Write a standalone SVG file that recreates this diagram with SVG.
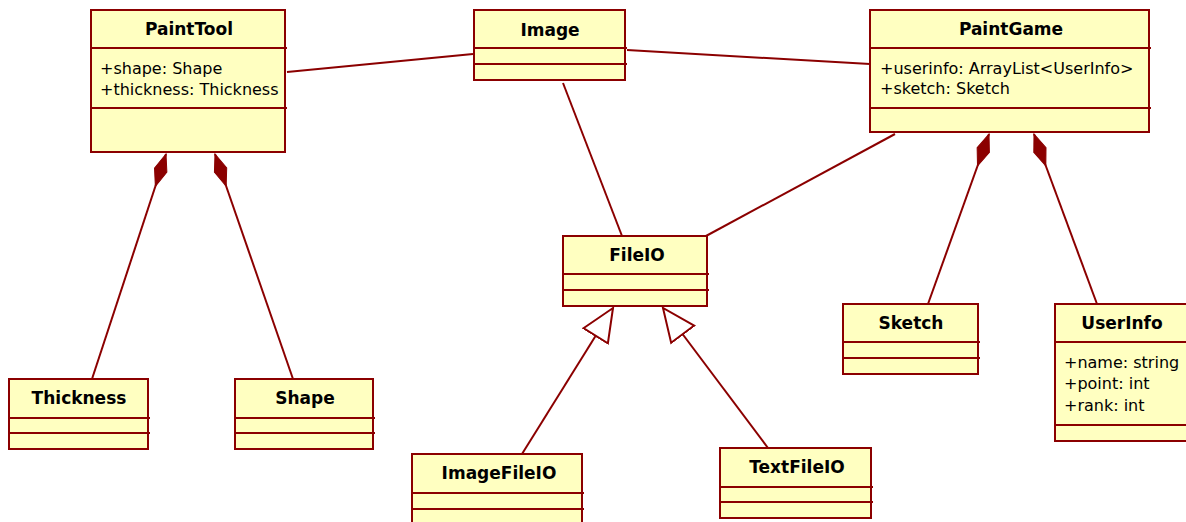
<svg xmlns="http://www.w3.org/2000/svg" width="1186" height="522" viewBox="0 0 1186 522">
<defs>
<style>
.box{fill:#FFFFC1;stroke:#8B0000;stroke-width:2}
.div{stroke:#8B0000;stroke-width:2}
.conn{stroke:#8B0000;stroke-width:2;fill:none}
.title{font-family:"DejaVu Sans",sans-serif;font-weight:bold;font-size:17px;fill:#000;text-anchor:middle}
.attr{font-family:"DejaVu Sans",sans-serif;font-size:16px;fill:#000}
</style>
<marker id="diamond" markerUnits="userSpaceOnUse" markerWidth="36" markerHeight="16" viewBox="0 -8 36 16" refX="34" refY="0" orient="auto">
<path d="M0,0 L17,-6.5 L34,0 L17,6.5 Z" fill="#8B0000" stroke="#8B0000" stroke-width="1"/>
</marker>
<marker id="tri" markerUnits="userSpaceOnUse" markerWidth="36" markerHeight="34" viewBox="-1 -16 36 32" refX="32.8" refY="0" orient="auto">
<path d="M0,-14.4 L32.8,0 L0,14.4 Z" fill="#FFFFFF" stroke="#8B0000" stroke-width="2"/>
</marker>
</defs>
<rect width="1186" height="522" fill="#FFFFFF"/>
<g id="connectors">
<line class="conn" x1="287" y1="72" x2="473" y2="54"/>
<line class="conn" x1="627" y1="50" x2="870" y2="64"/>
<line class="conn" x1="563" y1="83" x2="622" y2="236"/>
<line class="conn" x1="895" y1="134" x2="706" y2="236"/>
<line class="conn" x1="92" y1="379" x2="166" y2="154" marker-end="url(#diamond)"/>
<line class="conn" x1="293" y1="379" x2="215" y2="154" marker-end="url(#diamond)"/>
<line class="conn" x1="928" y1="304" x2="989" y2="134" marker-end="url(#diamond)"/>
<line class="conn" x1="1097" y1="304" x2="1034" y2="134" marker-end="url(#diamond)"/>
<line class="conn" x1="522" y1="454" x2="613" y2="308" marker-end="url(#tri)"/>
<line class="conn" x1="768" y1="448" x2="663" y2="308" marker-end="url(#tri)"/>
</g>
<g id="PaintTool">
<rect class="box" x="91" y="10" width="194" height="142"/>
<line class="div" x1="91" y1="48" x2="287" y2="48"/>
<line class="div" x1="91" y1="108" x2="287" y2="108"/>
<text class="title" x="189" y="35">PaintTool</text>
<text class="attr" x="100" y="74">+shape: Shape</text>
<text class="attr" x="100" y="95">+thickness: Thickness</text>
</g>
<g id="Image">
<rect class="box" x="474" y="10" width="151" height="70"/>
<line class="div" x1="474" y1="48" x2="627" y2="48"/>
<line class="div" x1="474" y1="64" x2="627" y2="64"/>
<text class="title" x="550" y="36">Image</text>
</g>
<g id="PaintGame">
<rect class="box" x="870" y="10" width="279" height="122"/>
<line class="div" x1="870" y1="48" x2="1151" y2="48"/>
<line class="div" x1="870" y1="108" x2="1151" y2="108"/>
<text class="title" x="1011" y="35">PaintGame</text>
<text class="attr" x="880" y="74">+userinfo: ArrayList&lt;UserInfo&gt;</text>
<text class="attr" x="880" y="94">+sketch: Sketch</text>
</g>
<g id="FileIO">
<rect class="box" x="563" y="236" width="144" height="70"/>
<line class="div" x1="563" y1="274" x2="709" y2="274"/>
<line class="div" x1="563" y1="290" x2="709" y2="290"/>
<text class="title" x="637" y="261">FileIO</text>
</g>
<g id="Thickness">
<rect class="box" x="9" y="379" width="139" height="70"/>
<line class="div" x1="9" y1="418" x2="150" y2="418"/>
<line class="div" x1="9" y1="433" x2="150" y2="433"/>
<text class="title" x="79" y="404">Thickness</text>
</g>
<g id="Shape">
<rect class="box" x="235" y="379" width="138" height="70"/>
<line class="div" x1="235" y1="418" x2="375" y2="418"/>
<line class="div" x1="235" y1="433" x2="375" y2="433"/>
<text class="title" x="305" y="404">Shape</text>
</g>
<g id="ImageFileIO">
<rect class="box" x="412" y="454" width="170" height="72"/>
<line class="div" x1="412" y1="493" x2="584" y2="493"/>
<line class="div" x1="412" y1="509" x2="584" y2="509"/>
<text class="title" x="499" y="479">ImageFileIO</text>
</g>
<g id="TextFileIO">
<rect class="box" x="720" y="448" width="151" height="70"/>
<line class="div" x1="720" y1="487" x2="873" y2="487"/>
<line class="div" x1="720" y1="502" x2="873" y2="502"/>
<text class="title" x="797" y="473">TextFileIO</text>
</g>
<g id="Sketch">
<rect class="box" x="843" y="304" width="135" height="70"/>
<line class="div" x1="843" y1="342" x2="980" y2="342"/>
<line class="div" x1="843" y1="358" x2="980" y2="358"/>
<text class="title" x="911" y="329">Sketch</text>
</g>
<g id="UserInfo">
<rect class="box" x="1055" y="304" width="134" height="137"/>
<line class="div" x1="1055" y1="342" x2="1189" y2="342"/>
<line class="div" x1="1055" y1="425" x2="1189" y2="425"/>
<text class="title" x="1122" y="329">UserInfo</text>
<text class="attr" x="1064" y="368">+name: string</text>
<text class="attr" x="1064" y="389">+point: int</text>
<text class="attr" x="1064" y="411">+rank: int</text>
</g>
</svg>
